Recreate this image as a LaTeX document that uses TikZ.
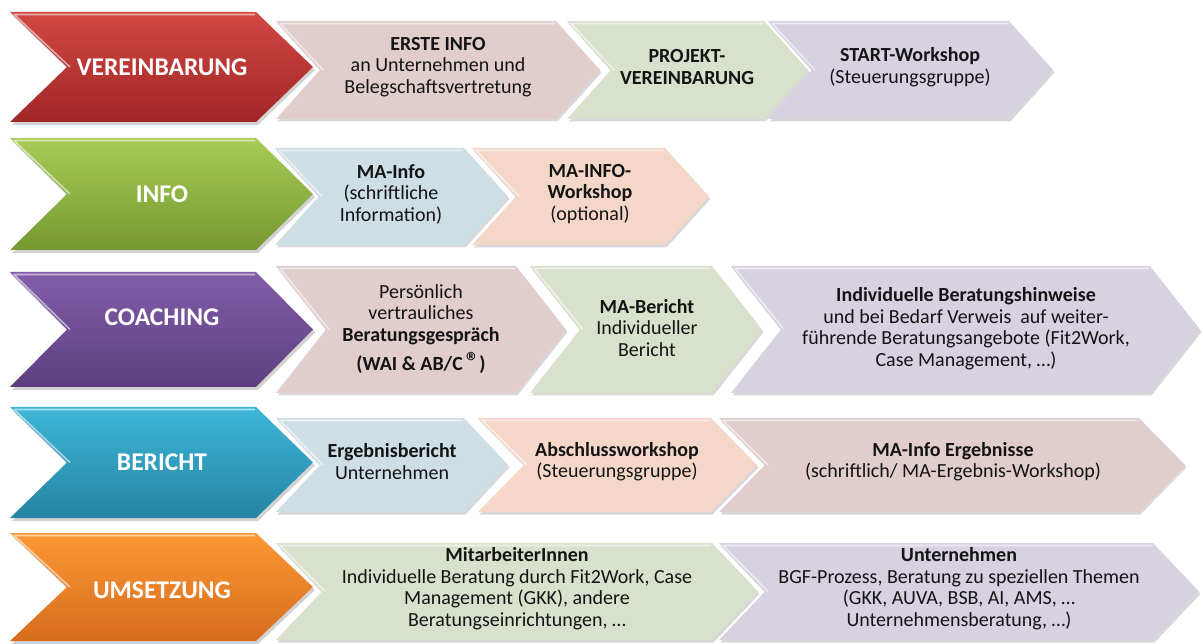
\documentclass[tikz,border=0pt]{standalone}
\usepackage{fontspec}
\setmainfont{Carlito}
\usetikzlibrary{shadows}
\definecolor{redT}{RGB}{210,72,66}\definecolor{redB}{RGB}{160,38,38}
\definecolor{grnT}{RGB}{168,204,88}\definecolor{grnB}{RGB}{118,152,48}
\definecolor{purT}{RGB}{130,94,170}\definecolor{purB}{RGB}{92,62,128}
\definecolor{bluT}{RGB}{62,182,216}\definecolor{bluB}{RGB}{38,132,162}
\definecolor{orgT}{RGB}{252,152,52}\definecolor{orgB}{RGB}{214,108,30}
\definecolor{cPink}{RGB}{226,205,205}
\definecolor{cGreen}{RGB}{216,225,204}
\definecolor{cLav}{RGB}{215,209,224}
\definecolor{cBlue}{RGB}{205,222,229}
\definecolor{cPeach}{RGB}{244,215,201}
\newcommand\chev[6]{% style, x1, y1, x2, y2, depth
  \path[#1] (#2,#3) -- ({#4-#6},#3) -- (#4,{(#3+#5)/2}) -- ({#4-#6},#5) -- (#2,#5) -- ({#2+#6},{(#3+#5)/2}) -- cycle;
  \draw[white,opacity=.55,line width=1.6pt,line join=round]
    ({#2+#6+3},{(#3+#5)/2}) -- ({#2+4},{#3+2.5}) -- ({#4-#6-1},{#3+2.5});}
\tikzset{
  mainlbl/.style={font=\fontsize{25.5}{27}\selectfont\bfseries, text=white, align=center, inner sep=0pt},
  sublbl/.style={font=\fontsize{20}{21.5}\selectfont, text=black!92, align=center, inner sep=0pt},
  subchev/.style={fill=#1, drop shadow={shadow xshift=1.5pt,shadow yshift=-2.5pt,opacity=.3}},
  mainchev/.style 2 args={top color=#1, bottom color=#2, drop shadow={shadow xshift=2pt,shadow yshift=-3pt,opacity=.35}},
}
\begin{document}
\begin{tikzpicture}[x=1pt,y=-1pt]
\useasboundingbox[fill=white] (0,0) rectangle (1203,644);
% ---------- Row 1
\chev{subchev=cLav}{768}{21}{1053}{119}{44}
\chev{subchev=cGreen}{567}{21}{808}{119}{44}
\chev{subchev=cPink}{276}{21}{600}{119}{44}
\chev{mainchev={redT}{redB}}{10}{12}{313}{122}{57}
\node[mainlbl] (vereinbarung) at (162,67) {VEREINBARUNG};
\node[sublbl] (ersteinfo) at (438,67) {\textbf{ERSTE INFO}\\an Unternehmen und\\Belegschaftsvertretung};
\node[sublbl] (projekt) at (687,67) {\textbf{PROJEKT-}\\\textbf{VEREINBARUNG}};
\node[sublbl] (start) at (910,67) {\textbf{START-Workshop}\\(Steuerungsgruppe)};
% ---------- Row 2
\chev{subchev=cPeach}{472}{148}{709}{245}{44}
\chev{subchev=cBlue}{275}{148}{508}{245}{44}
\chev{mainchev={grnT}{grnB}}{10}{138}{313}{250}{57}
\node[mainlbl] (info) at (162,194) {INFO};
\node[sublbl] (mainfo) at (391,194) {\textbf{MA-Info}\\(schriftliche\\Information)};
\node[sublbl] (maworkshop) at (590,194) {\textbf{MA-INFO-}\\\textbf{Workshop}\\(optional)};
% ---------- Row 3
\chev{subchev=cLav}{731}{266}{1200}{393}{50}
\chev{subchev=cGreen}{530}{266}{762}{393}{50}
\chev{subchev=cPink}{276}{266}{566}{393}{50}
\chev{mainchev={purT}{purB}}{10}{272}{313}{387}{57}
\node[mainlbl] (coaching) at (162,317) {COACHING};
\node[sublbl] (persoenlich) at (421,329) {Persönlich\\vertrauliches\\\textbf{Beratungsgespräch}\\[7pt]\textbf{(WAI \& AB/C\,{\fontsize{26}{26}\selectfont ®})}};
\node[sublbl] (mabericht) at (647,328) {\textbf{MA-Bericht}\\Individueller\\Bericht};
\node[sublbl] (hinweise) at (966,328.5) {\textbf{Individuelle Beratungshinweise}\\und bei Bedarf Verweis\ \ auf weiter-\\führende Beratungsangebote (Fit2Work,\\Case Management, …)};
% ---------- Row 4
\chev{subchev=cPink}{719}{418}{1185}{512}{46}
\chev{subchev=cPeach}{478}{418}{757}{512}{46}
\chev{subchev=cBlue}{276}{418}{508}{512}{44}
\chev{mainchev={bluT}{bluB}}{10}{407}{313}{518}{57}
\node[mainlbl] (bericht) at (162,462) {BERICHT};
\node[sublbl] (ergebnis) at (392,461.5) {\textbf{Ergebnisbericht}\\Unternehmen};
\node[sublbl] (abschluss) at (617,461.5) {\textbf{Abschlussworkshop}\\(Steuerungsgruppe)};
\node[sublbl] (maergebnis) at (953,461.5) {\textbf{MA-Info Ergebnisse}\\(schriftlich/ MA-Ergebnis-Workshop)};
% ---------- Row 5
\chev{subchev=cLav}{719}{543}{1199}{640}{46}
\chev{subchev=cGreen}{276}{543}{758}{640}{46}
\chev{mainchev={orgT}{orgB}}{10}{533}{313}{641}{57}
\node[mainlbl] (umsetzung) at (162,590) {UMSETZUNG};
\node[sublbl] (mitarbeiter) at (517,588.5) {\textbf{MitarbeiterInnen}\\Individuelle Beratung durch Fit2Work, Case\\Management (GKK), andere\\Beratungseinrichtungen, …};
\node[sublbl] (unternehmen) at (959,588.5) {\textbf{Unternehmen}\\BGF-Prozess, Beratung zu speziellen Themen\\(GKK, AUVA, BSB, AI, AMS, …\\Unternehmensberatung, …)};
\end{tikzpicture}
\end{document}
